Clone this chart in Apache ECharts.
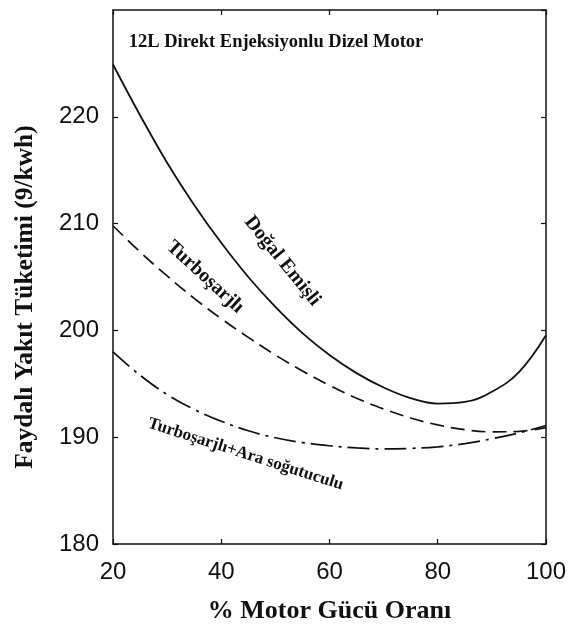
<!DOCTYPE html>
<html>
<head>
<meta charset="utf-8">
<script src="https://cdn.jsdelivr.net/npm/echarts@6/dist/echarts.min.js"></script>
<style>
  html, body { margin: 0; padding: 0; background: #fff; }
  #chart { width: 569px; height: 629px; }
</style>
</head>
<body>
<div id="chart"></div>
<script>
// % motor gücü (x ekseni)
const motorGucu = [20, 25, 30, 35, 40, 45, 50, 55, 60, 65, 70, 75, 80, 85, 90, 95, 100];

// faydalı yakıt tüketimi değerleri (g/kWh)
const dogalEmisli = [224.9, 220.15, 215.7, 211.75, 208.2, 205.0, 202.2, 199.75, 197.7, 196.0, 194.65, 193.65, 193.15, 193.3, 194.25, 196.1, 199.55];
const turbosarjli = [209.8, 207.35, 205.1, 203.0, 201.1, 199.35, 197.7, 196.2, 194.85, 193.65, 192.65, 191.8, 191.15, 190.7, 190.5, 190.55, 190.9];
const turboAra    = [198.0, 195.8, 194.0, 192.6, 191.5, 190.6, 189.95, 189.5, 189.2, 189.0, 188.9, 188.95, 189.1, 189.4, 189.85, 190.4, 191.1];

// eğri üzerindeki yazılar: [metin, x, y, açı, punto]
const etiketler = [
  ['Doğal Emişli', 51.3, 206.5, -51, 20],
  ['Turboşarjlı', 37.0, 205.0, -42.6, 20],
  ['Turboşarjlı+Ara soğutuculu', 44.5, 188.4, -17.8, 17]
];
const baslik = ['12L Direkt Enjeksiyonlu Dizel Motor', 22.9, 227.0];

const serif = '"Liberation Serif", "Times New Roman", serif';
const sans = '"Liberation Sans", Arial, sans-serif';

const chart = echarts.init(document.getElementById('chart'));

const pairs = arr => motorGucu.map((x, i) => [x, arr[i]]);

const axisLine = { show: true, lineStyle: { color: '#111', width: 1.5 } };
const axisTick = { show: true, inside: true, length: 5, lineStyle: { color: '#111', width: 1.2 } };

chart.setOption({
  animation: false,
  backgroundColor: '#fff',
  grid: { left: 113, right: 22, top: 10, bottom: 84 },
  xAxis: [
    {
      type: 'value', min: 20, max: 100, interval: 20, position: 'bottom',
      axisLine, axisTick, splitLine: { show: false },
      axisLabel: { fontFamily: sans, fontSize: 24, color: '#111', margin: 16 },
      name: '% Motor Gücü Oranı', nameLocation: 'middle', nameGap: 54,
      nameTextStyle: { fontFamily: serif, fontWeight: 'bold', fontSize: 26, color: '#111' }
    },
    {
      type: 'value', min: 20, max: 100, interval: 20, position: 'top',
      axisLine, axisTick, splitLine: { show: false }, axisLabel: { show: false }
    }
  ],
  yAxis: [
    {
      type: 'value', min: 180, max: 230, interval: 10, position: 'left',
      axisLine, axisTick, splitLine: { show: false },
      axisLabel: { fontFamily: sans, fontSize: 24, color: '#111', margin: 14, showMaxLabel: false }
    },
    {
      type: 'value', min: 180, max: 230, interval: 10, position: 'right',
      axisLine, axisTick, splitLine: { show: false }, axisLabel: { show: false }
    }
  ],
  series: [
    {
      name: 'Doğal Emişli', type: 'line', data: pairs(dogalEmisli), smooth: 0.4,
      showSymbol: false, lineStyle: { color: '#111', width: 1.8, type: 'solid' }
    },
    {
      name: 'Turboşarjlı', type: 'line', data: pairs(turbosarjli), smooth: 0.4,
      showSymbol: false, lineStyle: { color: '#111', width: 1.7, type: [14, 7] }
    },
    {
      name: 'Turboşarjlı+Ara soğutuculu', type: 'line', data: pairs(turboAra), smooth: 0.4,
      showSymbol: false, lineStyle: { color: '#111', width: 1.7, type: [22, 6, 3, 6] }
    }
  ]
});

// yazıları veri koordinatlarına göre yerleştir
const graphic = etiketler.map(([text, x, y, aci, size]) => {
  const p = chart.convertToPixel({ gridIndex: 0 }, [x, y]);
  return {
    type: 'text', x: p[0], y: p[1], rotation: aci * Math.PI / 180,
    style: {
      text, fill: '#111', font: `bold ${size}px ${serif}`,
      align: 'center', verticalAlign: 'middle'
    }
  };
});
const bp = chart.convertToPixel({ gridIndex: 0 }, [baslik[1], baslik[2]]);
graphic.push({
  type: 'text', x: bp[0], y: bp[1],
  style: { text: baslik[0], fill: '#111', font: `bold 18.5px ${serif}`, align: 'left', verticalAlign: 'middle' }
});
// y ekseni başlığı (referansta biraz aşağıda duruyor)
graphic.push({
  type: 'text', x: 25.5, y: 297, rotation: Math.PI / 2,
  style: {
    text: 'Faydalı Yakıt Tüketimi (9/kwh)', fill: '#111', font: `bold 25.5px ${serif}`,
    align: 'center', verticalAlign: 'middle'
  }
});
chart.setOption({ graphic });
</script>
</body>
</html>
